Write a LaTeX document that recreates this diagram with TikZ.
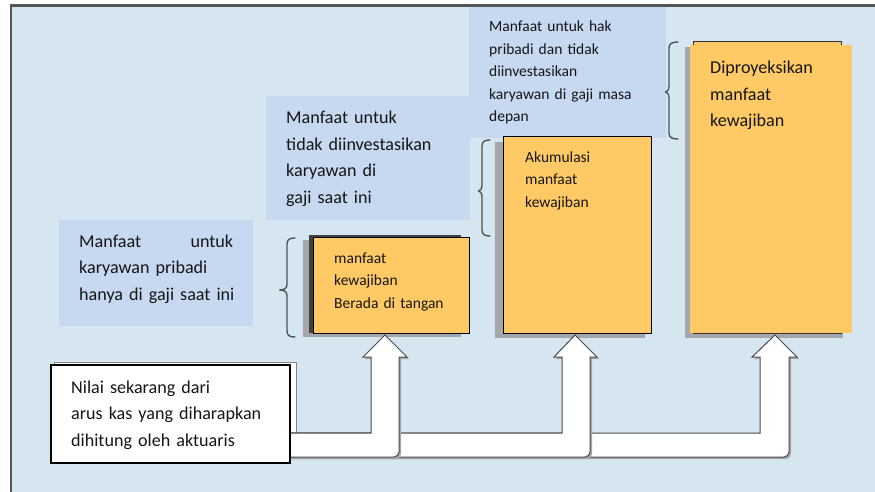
\documentclass[tikz,border=0pt]{standalone}
\usepackage{fontspec}
\setmainfont{Carlito}
\definecolor{bgblue}{HTML}{D5E6F0}
\definecolor{boxblue}{HTML}{C6D9F0}
\definecolor{orng}{HTML}{FFCA66}
\definecolor{framec}{HTML}{555555}
\definecolor{shade}{HTML}{A4A6AA}
\definecolor{txt}{HTML}{161616}
\definecolor{bracec}{HTML}{4E545C}
\definecolor{arrline}{HTML}{4A4A4A}
\begin{document}
\begin{tikzpicture}[x=1pt,y=-1pt,
  rect/.style={anchor=north west, inner sep=0pt, outer sep=0pt},
  bluebox/.style={rect, fill=boxblue},
  shadowbox/.style={rect, fill=shade},
  orangebox/.style={rect, fill=orng},
  bigtext/.style={anchor=base west, inner sep=0pt, align=left, text=txt, text width=#1,
    font=\fontsize{18.1}{26.5}\selectfont},
  smalltext/.style={anchor=base west, inner sep=0pt, align=left, text=txt, text width=#1,
    font=\fontsize{15.5}{22.6}\selectfont},
  bracestyle/.style={draw=bracec, line width=1.4pt, line cap=round, line join=round},
  arrowshape/.style={fill=white, draw=arrline, line width=1pt, line join=miter},
  arrowshadow/.style={fill=shade, draw=none}
]
\useasboundingbox (0,0) rectangle (875,492);
\fill[white] (0,0) rectangle (875,492);
% frame
\fill[bgblue] (11,5.5) rectangle (875,492);
\draw[framec, line width=2.3pt] (11,492) -- (11,5.5) -- (875,5.5);

% blue label boxes
\node[bluebox, minimum width=194pt, minimum height=106pt] (lb1) at (59,220) {};
\node[bluebox, minimum width=204pt, minimum height=124pt] (lb2) at (266,96) {};
\node[bluebox, minimum width=197pt, minimum height=131pt] (lb3) at (469,6.8) {};

\node[bigtext=190pt] (t1) at (79,247) {\hbox to 154pt{Manfaat\hfil untuk}\\karyawan pribadi\\hanya di gaji saat ini};
\node[bigtext=180pt] (t2) at (286,124) {Manfaat untuk\\tidak diinvestasikan\\karyawan di\\gaji saat ini};
\node[smalltext=170pt] (t3) at (489,31.5) {Manfaat untuk hak\\pribadi dan tidak\\diinvestasikan\\karyawan di gaji masa\\depan};

% braces
\draw[bracestyle] (295,238) .. controls (289.5,238) and (287,239.5) .. (287,244) -- (287,284)
  .. controls (287,288) and (285,290) .. (279.5,290) .. controls (285,290) and (287,292) .. (287,296)
  -- (287,331) .. controls (287,335.5) and (289.5,337) .. (295,337);
\draw[bracestyle] (490,140) .. controls (484.5,140) and (482,141.5) .. (482,146) -- (482,185)
  .. controls (482,189) and (480,191) .. (478.5,191) .. controls (480,191) and (482,193) .. (482,197)
  -- (482,230) .. controls (482,234.5) and (484.5,236) .. (490,236);
\draw[bracestyle] (678,42) .. controls (672,42) and (669,43.5) .. (669,48) -- (669,86)
  .. controls (669,90) and (667,92) .. (665.5,92) .. controls (667,92) and (669,94) .. (669,98)
  -- (669,133) .. controls (669,137.5) and (672,139) .. (678,139);

% orange boxes with shadows
\node[shadowbox, minimum width=158pt, minimum height=97pt] (s1) at (303,240) {};
\node[rect, fill=black!75, minimum width=152pt, minimum height=98pt] (k1) at (309,235) {};
\node[orangebox, draw=black, line width=1pt, minimum width=156pt, minimum height=96pt] (o1) at (313,237) {};
\node[smalltext=150pt] (t4) at (334,263) {manfaat\\kewajiban\\Berada di tangan};

\node[shadowbox, minimum width=150pt, minimum height=196pt] (s2) at (495,142) {};
\node[orangebox, draw=black, line width=1pt, minimum width=148pt, minimum height=196pt] (o2) at (503,137) {};
\node[smalltext=120pt] (t5) at (525,162) {Akumulasi\\manfaat\\kewajiban};

\node[shadowbox, minimum width=158pt, minimum height=291pt] (s3) at (685,47) {};
\node[orangebox, draw=black!80, line width=1pt, minimum width=148pt, minimum height=291pt] (k3) at (693,42) {};
\node[orangebox, minimum width=162pt, minimum height=288pt] (o3) at (690,45) {};
\node[bigtext=140pt] (t6) at (710,74) {Diproyeksikan\\manfaat\\kewajiban};

% shadow of the source box
\node[rect, fill=white, draw=shade!80!black, line width=1pt, minimum width=242pt, minimum height=96pt] (ns) at (54,362) {};

% block arrows (longest first)
\fill[arrowshadow] (282,435) -- (762,435) -- (762,359) -- (754,359) -- (777,337) -- (799,359) -- (791,359)
  [rounded corners=5pt] -- (791,459) -- (282,459) [sharp corners] -- cycle;
\draw[arrowshape] (280,433) -- (760,433) -- (760,357) -- (752,357) -- (775,335) -- (797,357) -- (789,357)
  [rounded corners=5pt] -- (789,457) -- (280,457) [sharp corners] -- cycle;
\fill[arrowshadow] (282,435) -- (564,435) -- (564,359) -- (556,359) -- (577,337) -- (599,359) -- (592,359)
  [rounded corners=5pt] -- (592,459) -- (282,459) [sharp corners] -- cycle;
\draw[arrowshape] (280,433) -- (562,433) -- (562,357) -- (554,357) -- (575,335) -- (597,357) -- (590,357)
  [rounded corners=5pt] -- (590,457) -- (280,457) [sharp corners] -- cycle;
\fill[arrowshadow] (282,435) -- (373,435) -- (373,359) -- (365,359) -- (387,337) -- (409,359) -- (401,359)
  [rounded corners=5pt] -- (401,459) -- (282,459) [sharp corners] -- cycle;
\draw[arrowshape] (280,433) -- (371,433) -- (371,357) -- (363,357) -- (385,335) -- (407,357) -- (399,357)
  [rounded corners=5pt] -- (399,457) -- (280,457) [sharp corners] -- cycle;

% source box
\node[rect, fill=white, draw=black, line width=1.2pt, minimum width=239pt, minimum height=98pt] (src) at (51,365) {};
\node[bigtext=220pt] (t7) at (71,393) {Nilai sekarang dari\\arus kas yang diharapkan\\dihitung oleh aktuaris};
\end{tikzpicture}
\end{document}
